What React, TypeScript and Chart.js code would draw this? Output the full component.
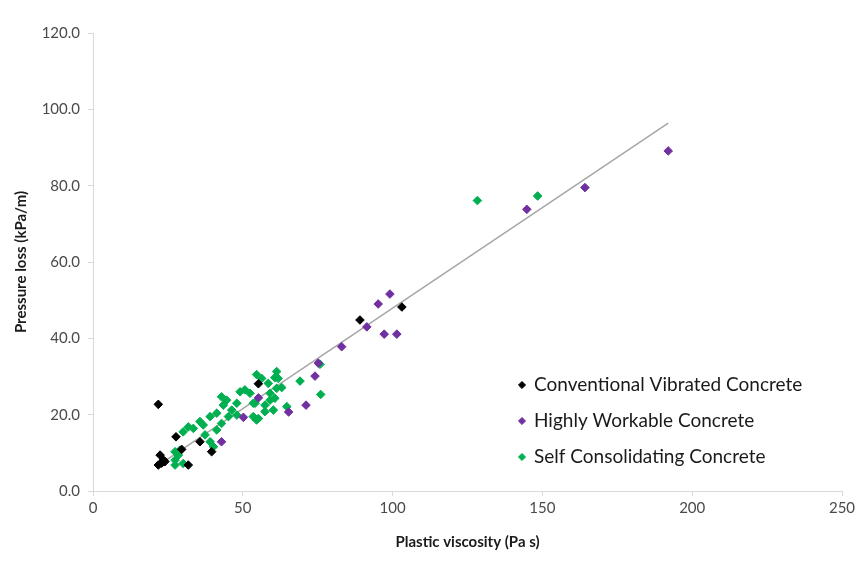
import React, { useEffect, useRef } from 'react';
import { Chart, registerables } from 'chart.js';

Chart.register(...registerables);

// ---- data ----
const SERIES_NAMES = [
  'Conventional Vibrated Concrete',
  'Highly Workable Concrete',
  'Self Consolidating Concrete',
];

const CVC_X = [21.8, 27.7, 22.4, 23.5, 22.9, 24.0, 21.8, 29.6, 35.7, 39.6, 31.8, 55.2, 89.1, 103.1];
const CVC_Y = [22.7, 14.2, 9.4, 8.1, 7.3, 7.7, 6.8, 10.9, 12.9, 10.3, 6.8, 28.1, 44.8, 48.2];

const HWC_X = [192.0, 164.2, 144.8, 99.1, 95.2, 91.4, 97.2, 101.4, 83.0, 75.2, 74.1, 71.1, 65.3, 55.2, 50.2, 42.9];
const HWC_Y = [89.1, 79.5, 73.8, 51.6, 49.0, 43.0, 41.1, 41.1, 37.8, 33.5, 30.1, 22.5, 20.7, 24.4, 19.3, 12.9];

const SCC_X = [
  128.3, 148.4, 75.8, 76.0, 69.1, 61.3, 60.7, 61.8, 54.6, 56.3, 58.5, 61.3, 63.0,
  50.7, 49.1, 52.4, 42.9, 44.6, 43.5, 48.0, 46.3, 48.0, 45.2, 41.3, 39.1, 35.7,
  36.8, 33.5, 31.8, 30.1, 37.4, 39.1, 40.2, 42.9, 41.3, 53.5, 53.5, 54.6, 57.4,
  59.1, 60.7, 57.4, 60.2, 64.7, 59.1, 27.4, 28.5, 27.4, 27.4, 30.1, 29.0, 54.1, 55.2,
];
const SCC_Y = [
  76.1, 77.3, 33.2, 25.3, 28.8, 31.3, 29.7, 29.5, 30.5, 29.5, 28.2, 26.9, 27.1,
  26.5, 26.0, 25.6, 24.7, 23.8, 22.5, 23.0, 21.2, 19.9, 19.5, 20.4, 19.5, 18.2,
  17.3, 16.4, 16.8, 15.5, 14.7, 12.9, 11.6, 17.7, 16.0, 23.0, 19.5, 18.6, 22.5,
  23.8, 24.3, 20.8, 21.2, 22.1, 25.6, 10.3, 9.4, 8.1, 6.8, 7.2, 10.7, 23.0, 19.0,
];

// linear trendline
const TREND_SLOPE = 0.527;
const TREND_INTERCEPT = -4.8;
const TREND_X = [21.8, 192.0];

const X_TICKS = [0, 50, 100, 150, 200, 250];
const Y_TICKS = [0, 20, 40, 60, 80, 100, 120];

const COLORS = ['#000000', '#7030A0', '#00B050'];

const FONT = 'Lato, "Open Sans", "DejaVu Sans", sans-serif';

const toPoints = (xs: number[], ys: number[]) => xs.map((x, i) => ({ x, y: ys[i] }));

const legendPlacer = {
  id: 'legendPlacer',
  afterLayout(chart: any) {
    const lg = chart.legend;
    if (!lg) return;
    lg.left = 502.5;
    lg.top = 358.5;
    lg.right = lg.left + lg.width;
    lg.bottom = lg.top + lg.height;
  },
};

export default function App() {
  const ref = useRef<HTMLCanvasElement | null>(null);

  useEffect(() => {
    document.body.style.margin = '0';
    const canvas = ref.current;
    if (!canvas) return;

    const seriesData = [
      toPoints(CVC_X, CVC_Y),
      toPoints(HWC_X, HWC_Y),
      toPoints(SCC_X, SCC_Y),
    ];

    const datasets: any[] = seriesData.map((d, i) => ({
      label: SERIES_NAMES[i],
      data: d,
      pointStyle: 'rectRot',
      pointRadius: 4.3,
      pointHoverRadius: 4.3,
      backgroundColor: COLORS[i],
      borderColor: COLORS[i],
      borderWidth: 1,
      showLine: false,
      order: 1,
    }));

    datasets.push({
      label: 'trend',
      data: TREND_X.map((x) => ({ x, y: TREND_SLOPE * x + TREND_INTERCEPT })),
      showLine: true,
      borderColor: '#A6A6A6',
      borderWidth: 1.5,
      pointRadius: 0,
      fill: false,
      order: 10,
    });

    const chart = new Chart(canvas, {
      type: 'scatter',
      data: { datasets },
      plugins: [legendPlacer],
      options: {
        animation: false,
        responsive: false,
        maintainAspectRatio: false,
        layout: { padding: { left: 0, right: 18, top: 33, bottom: 0 } },
        plugins: {
          tooltip: { enabled: false },
          legend: {
            position: 'chartArea' as any,
            align: 'start',
            labels: {
              usePointStyle: true,
              boxWidth: 5,
              boxHeight: 5,
              padding: 17,
              color: '#1a1a1a',
              font: { family: FONT, size: 19 },
              filter: (item: any) => item.text !== 'trend',
            },
          },
        },
        scales: {
          x: {
            type: 'linear',
            min: X_TICKS[0],
            max: X_TICKS[X_TICKS.length - 1],
            afterBuildTicks: (s: any) => {
              s.ticks = X_TICKS.map((v) => ({ value: v }));
            },
            afterFit: (s: any) => {
              s.height = 70;
            },
            ticks: {
              color: '#4a4a4a',
              font: { family: FONT, size: 15 },
              padding: 3,
              callback: (v: any) => String(v),
            },
            grid: {
              drawOnChartArea: false,
              drawTicks: true,
              tickLength: 5,
              color: '#D9D9D9',
            },
            border: { display: true, color: '#D9D9D9', width: 1 },
            title: {
              display: true,
              text: 'Plastic viscosity (Pa s)',
              color: '#1a1a1a',
              font: { family: FONT, size: 15, weight: 'bold' },
              padding: { top: 0, bottom: 10 },
            },
          },
          y: {
            type: 'linear',
            min: Y_TICKS[0],
            max: Y_TICKS[Y_TICKS.length - 1],
            afterBuildTicks: (s: any) => {
              s.ticks = Y_TICKS.map((v) => ({ value: v }));
            },
            afterFit: (s: any) => {
              s.width = 93;
            },
            ticks: {
              color: '#4a4a4a',
              font: { family: FONT, size: 15 },
              padding: 8,
              callback: (v: any) => Number(v).toFixed(1),
            },
            grid: {
              drawOnChartArea: false,
              drawTicks: true,
              tickLength: 5,
              color: '#D9D9D9',
            },
            border: { display: true, color: '#D9D9D9', width: 1 },
            title: {
              display: true,
              text: 'Pressure loss (kPa/m)',
              color: '#1a1a1a',
              font: { family: FONT, size: 15, weight: 'bold' },
              padding: { top: 12, bottom: 0 },
            },
          },
        },
      },
    });

    return () => chart.destroy();
  }, []);

  return (
    <div style={{ width: 860, height: 561, position: 'relative', background: '#fff' }}>
      <canvas ref={ref} width={860} height={561} style={{ width: 860, height: 561, display: 'block' }} />
    </div>
  );
}
